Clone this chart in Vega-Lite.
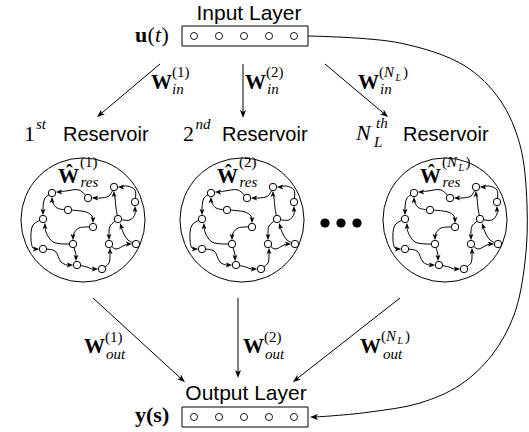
{
  "$schema": "https://vega.github.io/schema/vega-lite/v6.json",
  "width": 529,
  "height": 432,
  "padding": 0,
  "autosize": {"type": "none"},
  "background": "white",
  "config": {"view": {"stroke": null}},
  "datasets": {
    "boxes": [
      {"x": 182, "x2": 308, "y": 26, "y2": 46},
      {"x": 182, "x2": 308, "y": 407, "y2": 427}
    ],
    "units": [
      {"x": 194, "y": 36}, {"x": 219, "y": 36}, {"x": 244, "y": 36}, {"x": 269, "y": 36}, {"x": 294, "y": 36},
      {"x": 194, "y": 417}, {"x": 219, "y": 417}, {"x": 244, "y": 417}, {"x": 269, "y": 417}, {"x": 294, "y": 417}
    ],
    "lines": [
      {"id": "in1", "o": 0, "x": 160, "y": 64}, {"id": "in1", "o": 1, "x": 100, "y": 114.5},
      {"id": "in2", "o": 0, "x": 243, "y": 64}, {"id": "in2", "o": 1, "x": 243, "y": 114},
      {"id": "in3", "o": 0, "x": 325, "y": 64}, {"id": "in3", "o": 1, "x": 385, "y": 114.5},
      {"id": "out1", "o": 0, "x": 93, "y": 298}, {"id": "out1", "o": 1, "x": 182, "y": 379.5},
      {"id": "out2", "o": 0, "x": 238, "y": 298}, {"id": "out2", "o": 1, "x": 238, "y": 374},
      {"id": "out3", "o": 0, "x": 400, "y": 298}, {"id": "out3", "o": 1, "x": 296, "y": 379.5},
      {"id": "fb", "o": 0, "x": 308, "y": 36},
      {"id": "fb", "o": 1, "x": 400, "y": 43},
      {"id": "fb", "o": 2, "x": 465, "y": 66},
      {"id": "fb", "o": 3, "x": 500, "y": 100},
      {"id": "fb", "o": 4, "x": 520, "y": 145},
      {"id": "fb", "o": 5, "x": 527, "y": 205},
      {"id": "fb", "o": 6, "x": 525, "y": 262},
      {"id": "fb", "o": 7, "x": 514, "y": 315},
      {"id": "fb", "o": 8, "x": 492, "y": 355},
      {"id": "fb", "o": 9, "x": 460, "y": 385},
      {"id": "fb", "o": 10, "x": 420, "y": 403},
      {"id": "fb", "o": 11, "x": 370, "y": 412},
      {"id": "fb", "o": 12, "x": 330, "y": 416},
      {"id": "fb", "o": 13, "x": 314, "y": 417}
    ],
    "heads": [
      {"x": 100, "y": 114.5, "ang": 230},
      {"x": 243, "y": 114, "ang": 180},
      {"x": 385, "y": 114.5, "ang": 130},
      {"x": 182, "y": 379.5, "ang": 132},
      {"x": 238, "y": 374, "ang": 180},
      {"x": 296, "y": 379.5, "ang": 232},
      {"x": 314, "y": 417, "ang": 270}
    ],
    "rings": [
      {"x": 83, "y": 220}, {"x": 242, "y": 220}, {"x": 445, "y": 220}
    ],
    "dots": [
      {"x": 325, "y": 223}, {"x": 341, "y": 223}, {"x": 357, "y": 223}
    ],
    "labels": [
      {"t": "Input Layer", "x": 249, "y": 20, "role": "sansC"},
      {"t": "Output Layer", "x": 246, "y": 400, "role": "sansC"},
      {"t": "Reservoir", "x": 63, "y": 141, "role": "sans"},
      {"t": "Reservoir", "x": 222, "y": 141, "role": "sans"},
      {"t": "Reservoir", "x": 403, "y": 141, "role": "sans"},
      {"t": "W", "x": 151, "y": 89, "role": "bold"},
      {"t": "W", "x": 245, "y": 89, "role": "bold"},
      {"t": "W", "x": 358, "y": 89, "role": "bold"},
      {"t": "W", "x": 84, "y": 353, "role": "bold"},
      {"t": "W", "x": 243, "y": 353, "role": "bold"},
      {"t": "W", "x": 360, "y": 353, "role": "bold"},
      {"t": "Ŵ", "x": 58, "y": 183, "role": "bold"},
      {"t": "Ŵ", "x": 217, "y": 183, "role": "bold"},
      {"t": "Ŵ", "x": 420, "y": 183, "role": "bold"},
      {"t": "u", "x": 135, "y": 42, "role": "mathB"},
      {"t": "y(s)", "x": 135, "y": 422, "role": "mathB"},
      {"t": "(", "x": 147.5, "y": 42, "role": "mathR"},
      {"t": ")", "x": 161.5, "y": 42, "role": "mathR"},
      {"t": "1", "x": 24, "y": 141, "role": "mathR"},
      {"t": "2", "x": 183, "y": 141, "role": "mathR"},
      {"t": "t", "x": 155, "y": 42, "role": "mathI"},
      {"t": "N", "x": 356, "y": 140, "role": "mathI"},
      {"t": "(1)", "x": 172, "y": 77, "role": "sup"},
      {"t": "(2)", "x": 266, "y": 77, "role": "sup"},
      {"t": "(", "x": 379, "y": 77, "role": "sup"},
      {"t": ")", "x": 403, "y": 77, "role": "sup"},
      {"t": "(1)", "x": 105, "y": 342, "role": "sup"},
      {"t": "(2)", "x": 264, "y": 342, "role": "sup"},
      {"t": "(", "x": 381, "y": 341, "role": "sup"},
      {"t": ")", "x": 405, "y": 341, "role": "sup"},
      {"t": "(1)", "x": 80, "y": 167, "role": "sup"},
      {"t": "(2)", "x": 239, "y": 167, "role": "sup"},
      {"t": "(", "x": 442, "y": 167, "role": "sup"},
      {"t": ")", "x": 465.5, "y": 167, "role": "sup"},
      {"t": "N", "x": 384, "y": 77, "role": "supI"},
      {"t": "N", "x": 386, "y": 341, "role": "supI"},
      {"t": "N", "x": 447, "y": 167, "role": "supI"},
      {"t": "in", "x": 172, "y": 94, "role": "supI"},
      {"t": "in", "x": 267, "y": 94, "role": "supI"},
      {"t": "in", "x": 380, "y": 94, "role": "supI"},
      {"t": "out", "x": 106, "y": 359, "role": "supI"},
      {"t": "out", "x": 265, "y": 359, "role": "supI"},
      {"t": "out", "x": 383, "y": 359, "role": "supI"},
      {"t": "res", "x": 80.5, "y": 187, "role": "supI"},
      {"t": "res", "x": 239.5, "y": 187, "role": "supI"},
      {"t": "res", "x": 442.5, "y": 187, "role": "supI"},
      {"t": "st", "x": 36, "y": 129, "role": "supI"},
      {"t": "nd", "x": 195.5, "y": 129, "role": "supI"},
      {"t": "th", "x": 376, "y": 128, "role": "supI"},
      {"t": "L", "x": 374, "y": 147, "role": "supI"},
      {"t": "L", "x": 395.5, "y": 81, "role": "tinyI"},
      {"t": "L", "x": 397.5, "y": 344, "role": "tinyI"},
      {"t": "L", "x": 458.5, "y": 171, "role": "tinyI"}
    ],
    "nodes": [
      {"id": "A", "x": -31, "y": 193}, {"id": "B", "x": 5, "y": 198},
      {"id": "C", "x": 31, "y": 187}, {"id": "D", "x": 52, "y": 202},
      {"id": "E", "x": -15, "y": 210}, {"id": "F", "x": 10, "y": 227},
      {"id": "G", "x": -40, "y": 219}, {"id": "H", "x": 35, "y": 219},
      {"id": "I", "x": -10, "y": 244}, {"id": "J", "x": 26, "y": 244},
      {"id": "K", "x": 53, "y": 244}, {"id": "L", "x": -40, "y": 249},
      {"id": "M", "x": -6, "y": 265}, {"id": "N", "x": 19, "y": 269}
    ],
    "edges": [
      {"e": 1, "o": 0, "x": 5, "y": 198}, {"e": 1, "o": 1, "x": -4, "y": 190}, {"e": 1, "o": 2, "x": -17, "y": 191}, {"e": 1, "o": 3, "x": -24, "y": 192},
      {"e": 2, "o": 0, "x": 31, "y": 187}, {"e": 2, "o": 1, "x": 26, "y": 196}, {"e": 2, "o": 2, "x": 17, "y": 198}, {"e": 2, "o": 3, "x": 12, "y": 198},
      {"e": 3, "o": 0, "x": 52, "y": 202}, {"e": 3, "o": 1, "x": 52, "y": 190}, {"e": 3, "o": 2, "x": 44, "y": 186}, {"e": 3, "o": 3, "x": 38, "y": 187},
      {"e": 4, "o": 0, "x": -31, "y": 193}, {"e": 4, "o": 1, "x": -38, "y": 198}, {"e": 4, "o": 2, "x": -40, "y": 208}, {"e": 4, "o": 3, "x": -40, "y": 212},
      {"e": 5, "o": 0, "x": -15, "y": 210}, {"e": 5, "o": 1, "x": -26, "y": 208}, {"e": 5, "o": 2, "x": -30, "y": 203}, {"e": 5, "o": 3, "x": -31, "y": 200},
      {"e": 6, "o": 0, "x": -15, "y": 210}, {"e": 6, "o": 1, "x": 3, "y": 212}, {"e": 6, "o": 2, "x": 9, "y": 216}, {"e": 6, "o": 3, "x": 10, "y": 220},
      {"e": 7, "o": 0, "x": 10, "y": 227}, {"e": 7, "o": 1, "x": -4, "y": 228}, {"e": 7, "o": 2, "x": -9, "y": 233}, {"e": 7, "o": 3, "x": -10, "y": 237},
      {"e": 8, "o": 0, "x": -10, "y": 244}, {"e": 8, "o": 1, "x": -30, "y": 242}, {"e": 8, "o": 2, "x": -37, "y": 232}, {"e": 8, "o": 3, "x": -38, "y": 226},
      {"e": 9, "o": 0, "x": -40, "y": 219}, {"e": 9, "o": 1, "x": -50, "y": 225}, {"e": 9, "o": 2, "x": -52, "y": 240}, {"e": 9, "o": 3, "x": -50, "y": 248}, {"e": 9, "o": 4, "x": -47, "y": 249},
      {"e": 10, "o": 0, "x": -40, "y": 249}, {"e": 10, "o": 1, "x": -28, "y": 251}, {"e": 10, "o": 2, "x": -22, "y": 262}, {"e": 10, "o": 3, "x": -16, "y": 265}, {"e": 10, "o": 4, "x": -13, "y": 265},
      {"e": 11, "o": 0, "x": -10, "y": 244}, {"e": 11, "o": 1, "x": -8, "y": 251}, {"e": 11, "o": 2, "x": -7, "y": 255}, {"e": 11, "o": 3, "x": -7, "y": 258},
      {"e": 12, "o": 0, "x": -6, "y": 265}, {"e": 12, "o": 1, "x": 4, "y": 267}, {"e": 12, "o": 2, "x": 9, "y": 269}, {"e": 12, "o": 3, "x": 12, "y": 269},
      {"e": 13, "o": 0, "x": 19, "y": 269}, {"e": 13, "o": 1, "x": 26, "y": 263}, {"e": 13, "o": 2, "x": 27, "y": 255}, {"e": 13, "o": 3, "x": 27, "y": 251},
      {"e": 14, "o": 0, "x": 35, "y": 219}, {"e": 14, "o": 1, "x": 27, "y": 226}, {"e": 14, "o": 2, "x": 26, "y": 232}, {"e": 14, "o": 3, "x": 26, "y": 237},
      {"e": 15, "o": 0, "x": 26, "y": 244}, {"e": 15, "o": 1, "x": 33, "y": 249}, {"e": 15, "o": 2, "x": 42, "y": 245}, {"e": 15, "o": 3, "x": 46, "y": 244},
      {"e": 16, "o": 0, "x": 35, "y": 219}, {"e": 16, "o": 1, "x": 33, "y": 208}, {"e": 16, "o": 2, "x": 32, "y": 198}, {"e": 16, "o": 3, "x": 31, "y": 194},
      {"e": 17, "o": 0, "x": 35, "y": 219}, {"e": 17, "o": 1, "x": 47, "y": 220}, {"e": 17, "o": 2, "x": 52, "y": 214}, {"e": 17, "o": 3, "x": 52, "y": 209},
      {"e": 18, "o": 0, "x": 53, "y": 244}, {"e": 18, "o": 1, "x": 45, "y": 240}, {"e": 18, "o": 2, "x": 40, "y": 232}, {"e": 18, "o": 3, "x": 38, "y": 226}
    ],
    "netheads": [
      {"x": -24, "y": 192, "ang": 270}, {"x": 12, "y": 198, "ang": 270}, {"x": 38, "y": 187, "ang": 270},
      {"x": -40, "y": 212, "ang": 180}, {"x": -31, "y": 200, "ang": 0}, {"x": 10, "y": 220, "ang": 180},
      {"x": -10, "y": 237, "ang": 180}, {"x": -38, "y": 226, "ang": 0}, {"x": -47, "y": 249, "ang": 90},
      {"x": -13, "y": 265, "ang": 90}, {"x": -7, "y": 258, "ang": 180}, {"x": 12, "y": 269, "ang": 90},
      {"x": 27, "y": 251, "ang": 0}, {"x": 26, "y": 237, "ang": 180}, {"x": 46, "y": 244, "ang": 90},
      {"x": 31, "y": 194, "ang": 0}, {"x": 52, "y": 209, "ang": 0}, {"x": 38, "y": 226, "ang": 342}
    ]
  },
  "resolve": {"scale": {"x": "independent"}},
  "layer": [
    {
      "data": {"name": "lines"},
      "mark": {"type": "line", "stroke": "black", "strokeWidth": 1, "interpolate": "catmull-rom"},
      "encoding": {
        "x": {"field": "x", "type": "quantitative", "scale": {"domain": [0, 529], "nice": false, "zero": false}, "axis": null},
        "y": {"field": "y", "type": "quantitative", "scale": {"domain": [0, 432], "reverse": true, "nice": false, "zero": false}, "axis": null},
        "detail": {"field": "id"},
        "order": {"field": "o", "type": "quantitative"}
      }
    },
    {
      "data": {"name": "boxes"},
      "mark": {"type": "rect", "fill": "white", "stroke": "black", "strokeWidth": 1},
      "encoding": {
        "x": {"field": "x", "type": "quantitative", "scale": {"domain": [0, 529], "nice": false, "zero": false}, "axis": null},
        "x2": {"field": "x2"},
        "y": {"field": "y", "type": "quantitative", "scale": {"domain": [0, 432], "reverse": true, "nice": false, "zero": false}, "axis": null},
        "y2": {"field": "y2"}
      }
    },
    {
      "data": {"name": "units"},
      "mark": {"type": "point", "shape": "circle", "size": 50, "filled": false, "stroke": "black", "strokeWidth": 0.9, "opacity": 1},
      "encoding": {
        "x": {"field": "x", "type": "quantitative", "scale": {"domain": [0, 529], "nice": false, "zero": false}, "axis": null},
        "y": {"field": "y", "type": "quantitative", "scale": {"domain": [0, 432], "reverse": true, "nice": false, "zero": false}, "axis": null}
      }
    },
    {
      "data": {"name": "heads"},
      "mark": {"type": "point", "shape": "M0,-1L0.75,1L0,0.5L-0.75,1Z", "size": 64, "filled": true, "color": "black", "opacity": 1},
      "encoding": {
        "x": {"field": "x", "type": "quantitative", "scale": {"domain": [0, 529], "nice": false, "zero": false}, "axis": null},
        "y": {"field": "y", "type": "quantitative", "scale": {"domain": [0, 432], "reverse": true, "nice": false, "zero": false}, "axis": null},
        "angle": {"field": "ang", "type": "quantitative", "scale": null}
      }
    },
    {
      "data": {"name": "rings"},
      "mark": {"type": "point", "shape": "circle", "size": 15394, "filled": false, "stroke": "black", "strokeWidth": 1, "opacity": 1},
      "encoding": {
        "x": {"field": "x", "type": "quantitative", "scale": {"domain": [0, 529], "nice": false, "zero": false}, "axis": null},
        "y": {"field": "y", "type": "quantitative", "scale": {"domain": [0, 432], "reverse": true, "nice": false, "zero": false}, "axis": null}
      }
    },
    {
      "data": {"name": "dots"},
      "mark": {"type": "point", "shape": "circle", "size": 85, "filled": true, "color": "black", "opacity": 1},
      "encoding": {
        "x": {"field": "x", "type": "quantitative", "scale": {"domain": [0, 529], "nice": false, "zero": false}, "axis": null},
        "y": {"field": "y", "type": "quantitative", "scale": {"domain": [0, 432], "reverse": true, "nice": false, "zero": false}, "axis": null}
      }
    },
    {
      "data": {"name": "labels"},
      "transform": [{"filter": "datum.role === 'sansC'"}],
      "mark": {"type": "text", "font": "Liberation Sans", "fontSize": 21, "align": "center", "baseline": "alphabetic", "color": "black"},
      "encoding": {
        "x": {"field": "x", "type": "quantitative", "scale": {"domain": [0, 529], "nice": false, "zero": false}, "axis": null},
        "y": {"field": "y", "type": "quantitative", "scale": {"domain": [0, 432], "reverse": true, "nice": false, "zero": false}, "axis": null},
        "text": {"field": "t"}
      }
    },
    {
      "data": {"name": "labels"},
      "transform": [{"filter": "datum.role === 'sans'"}],
      "mark": {"type": "text", "font": "Liberation Sans", "fontSize": 20, "align": "left", "baseline": "alphabetic", "color": "black"},
      "encoding": {
        "x": {"field": "x", "type": "quantitative", "scale": {"domain": [0, 529], "nice": false, "zero": false}, "axis": null},
        "y": {"field": "y", "type": "quantitative", "scale": {"domain": [0, 432], "reverse": true, "nice": false, "zero": false}, "axis": null},
        "text": {"field": "t"}
      }
    },
    {
      "data": {"name": "labels"},
      "transform": [{"filter": "datum.role === 'bold'"}],
      "mark": {"type": "text", "font": "Liberation Serif", "fontWeight": "bold", "fontSize": 21, "align": "left", "baseline": "alphabetic", "color": "black"},
      "encoding": {
        "x": {"field": "x", "type": "quantitative", "scale": {"domain": [0, 529], "nice": false, "zero": false}, "axis": null},
        "y": {"field": "y", "type": "quantitative", "scale": {"domain": [0, 432], "reverse": true, "nice": false, "zero": false}, "axis": null},
        "text": {"field": "t"}
      }
    },
    {
      "data": {"name": "labels"},
      "transform": [{"filter": "datum.role === 'mathB'"}],
      "mark": {"type": "text", "font": "Liberation Serif", "fontWeight": "bold", "fontSize": 22, "align": "left", "baseline": "alphabetic", "color": "black"},
      "encoding": {
        "x": {"field": "x", "type": "quantitative", "scale": {"domain": [0, 529], "nice": false, "zero": false}, "axis": null},
        "y": {"field": "y", "type": "quantitative", "scale": {"domain": [0, 432], "reverse": true, "nice": false, "zero": false}, "axis": null},
        "text": {"field": "t"}
      }
    },
    {
      "data": {"name": "labels"},
      "transform": [{"filter": "datum.role === 'mathR'"}],
      "mark": {"type": "text", "font": "Liberation Serif", "fontSize": 22, "align": "left", "baseline": "alphabetic", "color": "black"},
      "encoding": {
        "x": {"field": "x", "type": "quantitative", "scale": {"domain": [0, 529], "nice": false, "zero": false}, "axis": null},
        "y": {"field": "y", "type": "quantitative", "scale": {"domain": [0, 432], "reverse": true, "nice": false, "zero": false}, "axis": null},
        "text": {"field": "t"}
      }
    },
    {
      "data": {"name": "labels"},
      "transform": [{"filter": "datum.role === 'mathI'"}],
      "mark": {"type": "text", "font": "Liberation Serif", "fontStyle": "italic", "fontSize": 22, "align": "left", "baseline": "alphabetic", "color": "black"},
      "encoding": {
        "x": {"field": "x", "type": "quantitative", "scale": {"domain": [0, 529], "nice": false, "zero": false}, "axis": null},
        "y": {"field": "y", "type": "quantitative", "scale": {"domain": [0, 432], "reverse": true, "nice": false, "zero": false}, "axis": null},
        "text": {"field": "t"}
      }
    },
    {
      "data": {"name": "labels"},
      "transform": [{"filter": "datum.role === 'sup'"}],
      "mark": {"type": "text", "font": "Liberation Serif", "fontSize": 15, "align": "left", "baseline": "alphabetic", "color": "black"},
      "encoding": {
        "x": {"field": "x", "type": "quantitative", "scale": {"domain": [0, 529], "nice": false, "zero": false}, "axis": null},
        "y": {"field": "y", "type": "quantitative", "scale": {"domain": [0, 432], "reverse": true, "nice": false, "zero": false}, "axis": null},
        "text": {"field": "t"}
      }
    },
    {
      "data": {"name": "labels"},
      "transform": [{"filter": "datum.role === 'supI'"}],
      "mark": {"type": "text", "font": "Liberation Serif", "fontStyle": "italic", "fontSize": 15, "align": "left", "baseline": "alphabetic", "color": "black"},
      "encoding": {
        "x": {"field": "x", "type": "quantitative", "scale": {"domain": [0, 529], "nice": false, "zero": false}, "axis": null},
        "y": {"field": "y", "type": "quantitative", "scale": {"domain": [0, 432], "reverse": true, "nice": false, "zero": false}, "axis": null},
        "text": {"field": "t"}
      }
    },
    {
      "data": {"name": "labels"},
      "transform": [{"filter": "datum.role === 'tinyI'"}],
      "mark": {"type": "text", "font": "Liberation Serif", "fontStyle": "italic", "fontSize": 10, "align": "left", "baseline": "alphabetic", "color": "black"},
      "encoding": {
        "x": {"field": "x", "type": "quantitative", "scale": {"domain": [0, 529], "nice": false, "zero": false}, "axis": null},
        "y": {"field": "y", "type": "quantitative", "scale": {"domain": [0, 432], "reverse": true, "nice": false, "zero": false}, "axis": null},
        "text": {"field": "t"}
      }
    },
    {
      "layer": [
        {
          "data": {"name": "edges"},
          "mark": {"type": "line", "stroke": "black", "strokeWidth": 1, "interpolate": "catmull-rom"},
          "encoding": {
            "x": {"field": "x", "type": "quantitative", "scale": {"domain": [-83, 446], "nice": false, "zero": false}, "axis": null},
            "y": {"field": "y", "type": "quantitative", "scale": {"domain": [0, 432], "reverse": true, "nice": false, "zero": false}, "axis": null},
            "detail": {"field": "e"},
            "order": {"field": "o", "type": "quantitative"}
          }
        },
        {
          "data": {"name": "netheads"},
          "mark": {"type": "point", "shape": "M0,-1L0.75,1L0,0.5L-0.75,1Z", "size": 42, "filled": true, "color": "black", "opacity": 1},
          "encoding": {
            "x": {"field": "x", "type": "quantitative", "scale": {"domain": [-83, 446], "nice": false, "zero": false}, "axis": null},
            "y": {"field": "y", "type": "quantitative", "scale": {"domain": [0, 432], "reverse": true, "nice": false, "zero": false}, "axis": null},
            "angle": {"field": "ang", "type": "quantitative", "scale": null}
          }
        },
        {
          "data": {"name": "nodes"},
          "mark": {"type": "point", "shape": "circle", "size": 55, "filled": false, "fill": "white", "stroke": "black", "strokeWidth": 1, "opacity": 1},
          "encoding": {
            "x": {"field": "x", "type": "quantitative", "scale": {"domain": [-83, 446], "nice": false, "zero": false}, "axis": null},
            "y": {"field": "y", "type": "quantitative", "scale": {"domain": [0, 432], "reverse": true, "nice": false, "zero": false}, "axis": null}
          }
        }
      ]
    },
    {
      "layer": [
        {
          "data": {"name": "edges"},
          "mark": {"type": "line", "stroke": "black", "strokeWidth": 1, "interpolate": "catmull-rom"},
          "encoding": {
            "x": {"field": "x", "type": "quantitative", "scale": {"domain": [-242, 287], "nice": false, "zero": false}, "axis": null},
            "y": {"field": "y", "type": "quantitative", "scale": {"domain": [0, 432], "reverse": true, "nice": false, "zero": false}, "axis": null},
            "detail": {"field": "e"},
            "order": {"field": "o", "type": "quantitative"}
          }
        },
        {
          "data": {"name": "netheads"},
          "mark": {"type": "point", "shape": "M0,-1L0.75,1L0,0.5L-0.75,1Z", "size": 42, "filled": true, "color": "black", "opacity": 1},
          "encoding": {
            "x": {"field": "x", "type": "quantitative", "scale": {"domain": [-242, 287], "nice": false, "zero": false}, "axis": null},
            "y": {"field": "y", "type": "quantitative", "scale": {"domain": [0, 432], "reverse": true, "nice": false, "zero": false}, "axis": null},
            "angle": {"field": "ang", "type": "quantitative", "scale": null}
          }
        },
        {
          "data": {"name": "nodes"},
          "mark": {"type": "point", "shape": "circle", "size": 55, "filled": false, "fill": "white", "stroke": "black", "strokeWidth": 1, "opacity": 1},
          "encoding": {
            "x": {"field": "x", "type": "quantitative", "scale": {"domain": [-242, 287], "nice": false, "zero": false}, "axis": null},
            "y": {"field": "y", "type": "quantitative", "scale": {"domain": [0, 432], "reverse": true, "nice": false, "zero": false}, "axis": null}
          }
        }
      ]
    },
    {
      "layer": [
        {
          "data": {"name": "edges"},
          "mark": {"type": "line", "stroke": "black", "strokeWidth": 1, "interpolate": "catmull-rom"},
          "encoding": {
            "x": {"field": "x", "type": "quantitative", "scale": {"domain": [-445, 84], "nice": false, "zero": false}, "axis": null},
            "y": {"field": "y", "type": "quantitative", "scale": {"domain": [0, 432], "reverse": true, "nice": false, "zero": false}, "axis": null},
            "detail": {"field": "e"},
            "order": {"field": "o", "type": "quantitative"}
          }
        },
        {
          "data": {"name": "netheads"},
          "mark": {"type": "point", "shape": "M0,-1L0.75,1L0,0.5L-0.75,1Z", "size": 42, "filled": true, "color": "black", "opacity": 1},
          "encoding": {
            "x": {"field": "x", "type": "quantitative", "scale": {"domain": [-445, 84], "nice": false, "zero": false}, "axis": null},
            "y": {"field": "y", "type": "quantitative", "scale": {"domain": [0, 432], "reverse": true, "nice": false, "zero": false}, "axis": null},
            "angle": {"field": "ang", "type": "quantitative", "scale": null}
          }
        },
        {
          "data": {"name": "nodes"},
          "mark": {"type": "point", "shape": "circle", "size": 55, "filled": false, "fill": "white", "stroke": "black", "strokeWidth": 1, "opacity": 1},
          "encoding": {
            "x": {"field": "x", "type": "quantitative", "scale": {"domain": [-445, 84], "nice": false, "zero": false}, "axis": null},
            "y": {"field": "y", "type": "quantitative", "scale": {"domain": [0, 432], "reverse": true, "nice": false, "zero": false}, "axis": null}
          }
        }
      ]
    }
  ]
}
